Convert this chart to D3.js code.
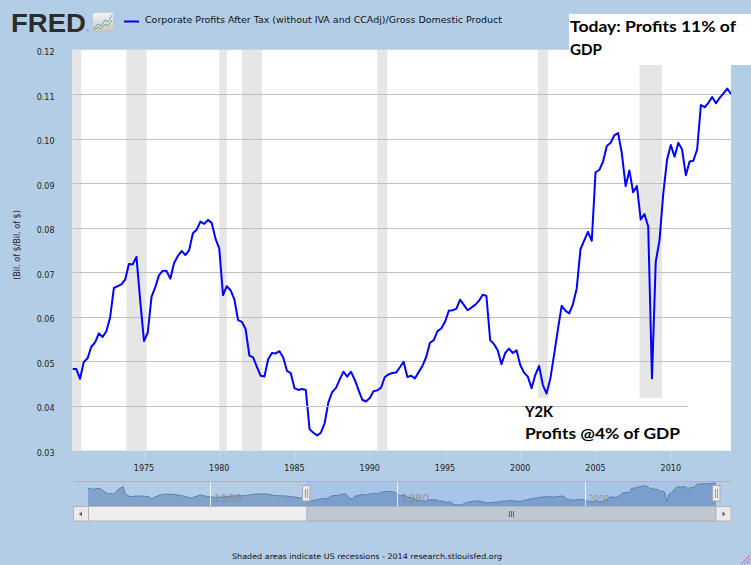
<!DOCTYPE html>
<html><head><meta charset="utf-8">
<script src="https://cdn.jsdelivr.net/npm/d3@7"></script>
<style>html,body{margin:0;padding:0;background:#b4cde6;}svg{display:block;}</style>
</head><body>
<svg id="chart" width="751" height="565"></svg>
<script>
// ---------- DATA ----------
const seriesName = "Corporate Profits After Tax (without IVA and CCAdj)/Gross Domestic Product";
const yUnits = "(Bil. of $/Bil. of $)";
const mainStartYear = 1970.25;   // 1970 Q2, quarterly observations
const mainValues = [
  .0483,.0483,.0461,
  .0499,.0507,.0533,.0543,
  .0563,.0555,.0568,.0599,
  .0665,.0669,.0673,.0684,
  .0719,.0718,.0735,.0636,
  .0546,.0565,.0645,.0667,
  .0694,.0704,.0703,.0686,
  .0721,.0737,.0748,.0739,
  .0750,.0788,.0796,.0814,
  .0809,.0818,.0811,.0776,
  .0754,.0649,.0669,.0660,
  .0640,.0593,.0589,.0573,
  .0513,.0509,.0488,.0468,
  .0466,.0505,.0519,.0518,
  .0523,.0509,.0479,.0474,
  .0440,.0436,.0438,.0436,
  .0348,.0340,.0334,.0340,
  .0361,.0408,.0431,.0440,
  .0459,.0477,.0466,.0477,
  .0459,.0436,.0414,.0410,
  .0418,.0433,.0435,.0441,
  .0465,.0471,.0474,.0475,
  .0487,.0499,.0465,.0468,
  .0462,.0476,.0490,.0510,
  .0542,.0548,.0568,.0574,
  .0589,.0614,.0615,.0618,
  .0639,.0627,.0615,.0621,
  .0627,.0636,.0650,.0647,
  .0548,.0539,.0525,.0494,
  .0519,.0529,.0519,.0525,
  .0492,.0475,.0466,.0440,
  .0470,.0490,.0447,.0428,
  .0462,.0516,.0572,.0625,
  .0614,.0608,.0629,.0664,
  .0752,.0772,.0791,.0771,
  .0925,.0930,.0949,.0984,
  .0991,.1008,.1013,.0967,
  .0894,.0929,.0880,.0894,
  .0819,.0831,.0803,.0462,
  .0724,.0772,.0877,.0953,
  .0986,.0960,.0991,.0976,
  .0918,.0949,.0951,.0976,
  .1076,.1071,.1081,.1094,
  .1080,.1092,.1102,.1113,
  .1101
];
// Earlier history shown only in the navigator
const earlyYears  = [1947.0,1947.5,1948.25,1949.0,1949.75,1950.25,1950.75,1951.0,1951.5,1952.5,1953.5,1953.75,1954.25,1955.0,1956.0,1957.0,1958.0,1959.0,1959.75,1960.5,1961.25,1962.5,1963.75,1965.0,1966.0,1967.0,1968.0,1968.75,1969.75];
const earlyValues = [.0927,.0892,.0927,.0751,.0727,.0892,.0983,.0716,.0632,.0656,.0632,.0551,.0632,.0716,.0716,.0667,.0575,.0691,.0632,.0611,.0611,.0656,.0667,.0727,.0727,.0667,.0656,.0632,.0575];
const recessionStarts = [1969.92,1973.83,1980.0,1981.5,1990.5,2001.17,2007.92];
const recessionEnds   = [1970.83,1975.17,1980.5,1982.83,1991.17,2001.83,2009.42];
const yTickValues = [0.03,0.04,0.05,0.06,0.07,0.08,0.09,0.10,0.11,0.12];
const xTickYears = [1975,1980,1985,1990,1995,2000,2005,2010];
const navLabelYears = [1960,1980,2000];
const footerText = "Shaded areas indicate US recessions - 2014 research.stlouisfed.org";
const noteTop = ["Today: Profits 11% of","GDP"];
const noteBottom = ["Y2K","Profits @4% of GDP"];

// ---------- BUILD ----------
const mainData = mainValues.map((v,i)=>({t: mainStartYear + i*0.25, v}));
const earlyData = earlyYears.map((t,i)=>({t, v: earlyValues[i]}));
const navData = earlyData.concat(mainData);

const svg = d3.select("#chart");
const W = 751, H = 565;
const FONT = "'DejaVu Sans', Verdana, sans-serif";
svg.append("rect").attr("width",W).attr("height",H).attr("fill","#b4cde6");

const plot = {x0:72.5, x1:731, y0:49.8, y1:450.5};
const x = d3.scaleLinear().domain([mainStartYear, mainData[mainData.length-1].t]).range([plot.x0, plot.x1]);
const y = d3.scaleLinear().domain([0.03, 0.12]).range([plot.y1, plot.y0]);

svg.append("defs").append("clipPath").attr("id","plotclip")
  .append("rect").attr("x",plot.x0).attr("y",plot.y0).attr("width",plot.x1-plot.x0).attr("height",plot.y1-plot.y0);

svg.append("rect").attr("x",plot.x0).attr("y",plot.y0).attr("width",plot.x1-plot.x0).attr("height",plot.y1-plot.y0).attr("fill","#fff");

const gp = svg.append("g").attr("clip-path","url(#plotclip)");
gp.selectAll("rect.rec").data(recessionStarts).join("rect").attr("class","rec")
  .attr("x",d=>x(d)).attr("width",(d,i)=>x(recessionEnds[i])-x(d))
  .attr("y",plot.y0).attr("height",plot.y1-plot.y0).attr("fill","#e6e6e6");

const gridVals = yTickValues.filter(v=>v>0.031 && v<0.119);
gp.selectAll("line.grid").data(gridVals).join("line").attr("class","grid")
  .attr("x1",plot.x0).attr("x2",plot.x1).attr("y1",d=>Math.round(y(d))+0.5).attr("y2",d=>Math.round(y(d))+0.5)
  .attr("stroke","#c0c0c0").attr("stroke-width",1);

const line = d3.line().x(d=>x(d.t)).y(d=>y(d.v));
gp.append("path").datum(mainData).attr("d",line).attr("fill","none")
  .attr("stroke","#0000ff").attr("stroke-width",2).attr("stroke-linejoin","round");

// x ticks (faint) and labels
svg.selectAll("line.xt").data(xTickYears).join("line").attr("class","xt")
  .attr("x1",d=>Math.round(x(d))+0.5).attr("x2",d=>Math.round(x(d))+0.5)
  .attr("y1",plot.y1).attr("y2",plot.y1+9).attr("stroke","#cbd9e8");
svg.selectAll("text.xl").data(xTickYears).join("text").attr("class","xl")
  .attr("x",d=>x(d)).attr("y",471).attr("text-anchor","middle")
  .attr("font-family",FONT).attr("font-size",8).attr("fill","#222").text(d=>d);

// y labels
svg.selectAll("text.yl").data(yTickValues).join("text").attr("class","yl")
  .attr("x",54.5).attr("y",d=>y(d)+5.5).attr("text-anchor","end")
  .attr("font-family",FONT).attr("font-size",8).attr("fill","#222").text(d=>d3.format(".2f")(d));
svg.append("text").attr("transform","translate(20,245) rotate(-90)").attr("text-anchor","middle")
  .attr("font-family",FONT).attr("font-size",8).attr("fill","#222").text(yUnits);

// ---------- annotations ----------
svg.append("rect").attr("x",569).attr("y",14).attr("width",W-569).attr("height",51).attr("fill","#fff");
const NOTEFONT = "Lato, 'Open Sans', sans-serif";
svg.append("text").attr("x",570).attr("y",32.3).attr("font-family",NOTEFONT).attr("font-weight","bold")
  .attr("font-size",16).attr("textLength",166).attr("lengthAdjust","spacingAndGlyphs").attr("fill","#000").text(noteTop[0]);
svg.append("text").attr("x",570).attr("y",54.5).attr("font-family",NOTEFONT).attr("font-weight","bold")
  .attr("font-size",16).attr("textLength",32).attr("lengthAdjust","spacingAndGlyphs").attr("fill","#000").text(noteTop[1]);

svg.append("rect").attr("x",515).attr("y",398).attr("width",plot.x1-515).attr("height",plot.y1-398).attr("fill","#fff");
svg.append("line").attr("x1",plot.x0).attr("x2",688).attr("y1",Math.round(y(0.04))+0.5).attr("y2",Math.round(y(0.04))+0.5)
  .attr("stroke","#c0c0c0");
svg.append("text").attr("x",525).attr("y",416.7).attr("font-family",NOTEFONT).attr("font-weight","bold")
  .attr("font-size",16).attr("textLength",28).attr("lengthAdjust","spacingAndGlyphs").attr("fill","#000").text(noteBottom[0]);
svg.append("text").attr("x",525).attr("y",439).attr("font-family",NOTEFONT).attr("font-weight","bold")
  .attr("font-size",16).attr("textLength",155).attr("lengthAdjust","spacingAndGlyphs").attr("fill","#000").text(noteBottom[1]);

// ---------- header ----------
const logoG = svg.append("g");
logoG.append("text").attr("x",11).attr("y",32).attr("font-family","'Liberation Sans', Arial, sans-serif")
  .attr("font-weight","bold").attr("font-size",26).attr("textLength",75).attr("lengthAdjust","spacingAndGlyphs")
  .attr("fill","#2d2d2d").text("FRED");
logoG.append("text").attr("x",86).attr("y",32).attr("font-family","'Liberation Sans', Arial, sans-serif")
  .attr("font-size",4).attr("fill","#555").text("®");
const grad = svg.select("defs").append("linearGradient").attr("id","icong").attr("x1",0).attr("y1",0).attr("x2",0).attr("y2",1);
grad.append("stop").attr("offset","0%").attr("stop-color","#f4f4f4");
grad.append("stop").attr("offset","100%").attr("stop-color","#c8c8c8");
logoG.append("rect").attr("x",92.5).attr("y",12.5).attr("width",21).attr("height",19).attr("rx",2).attr("fill","url(#icong)").attr("stroke","#bdbdbd").attr("stroke-width",0.5);
logoG.append("polyline").attr("points","94,28 98,24 101,26 105,20 108,22 112,15").attr("fill","none").attr("stroke","#6a9ad0").attr("stroke-width",1);
logoG.append("polyline").attr("points","94,30 98,27 101,29 105,24 108,26 112,20").attr("fill","none").attr("stroke","#7fae4a").attr("stroke-width",1);

svg.append("line").attr("x1",124).attr("x2",139).attr("y1",21.5).attr("y2",21.5).attr("stroke","#0000ff").attr("stroke-width",2);
svg.append("text").attr("x",145).attr("y",23).attr("font-family",FONT).attr("font-size",8)
  .attr("textLength",357).attr("lengthAdjust","spacingAndGlyphs").attr("fill","#111").text(seriesName);

// ---------- navigator ----------
const nav = {x0:88, x1:716, y0:483, y1:505, top:481.5, bottom:506};
const nx = d3.scaleLinear().domain([earlyYears[0], mainData[mainData.length-1].t]).range([nav.x0, nav.x1]);
const ny = d3.scaleLinear().domain(d3.extent(navData, d=>d.v)).range([nav.y1, nav.y0]);
svg.append("rect").attr("x",nx(mainStartYear)).attr("y",nav.top).attr("width",nav.x1-nx(mainStartYear)).attr("height",nav.bottom-nav.top).attr("fill","#a7c5e9");
const area = d3.area().x(d=>nx(d.t)).y0(nav.bottom).y1(d=>ny(d.v));
svg.append("path").datum(navData).attr("d",area).attr("fill","rgba(69,114,167,0.45)");
svg.append("path").datum(navData).attr("d",d3.line().x(d=>nx(d.t)).y(d=>ny(d.v))).attr("fill","none").attr("stroke","#5a80b2").attr("stroke-width",1);
svg.selectAll("line.ng").data(navLabelYears).join("line").attr("class","ng")
  .attr("x1",d=>Math.round(nx(d))+0.5).attr("x2",d=>Math.round(nx(d))+0.5).attr("y1",nav.top).attr("y2",nav.bottom)
  .attr("stroke","#fff").attr("stroke-opacity",0.8);
svg.selectAll("text.nl").data(navLabelYears).join("text").attr("class","nl")
  .attr("x",d=>nx(d)+4).attr("y",(d,i)=>i<2?502:501.5).attr("font-family",FONT)
  .attr("font-size",(d,i)=>i<2?11:8).attr("fill","#888").attr("fill-opacity",0.85).text(d=>d);
svg.append("line").attr("x1",73).attr("x2",731).attr("y1",nav.top).attr("y2",nav.top).attr("stroke","#b2b2b2");

// scrollbar
const sb = {y:506, h:14.5};
svg.append("rect").attr("x",73.5).attr("y",sb.y+0.5).attr("width",657).attr("height",sb.h).attr("fill","#eeeeee").attr("stroke","#b5b5b5");
svg.append("rect").attr("x",nx(mainStartYear)+1).attr("y",sb.y+0.5).attr("width",nav.x1-nx(mainStartYear)-1).attr("height",sb.h).attr("fill","#bfc7d1").attr("stroke","#a9b2bd");
[[73.5,-1],[716,1]].forEach(([bx,dir])=>{
  svg.append("rect").attr("x",bx).attr("y",sb.y+0.5).attr("width",15).attr("height",sb.h).attr("fill","#ebebeb").attr("stroke","#b5b5b5");
  const cx = bx+7.5, cy = sb.y+8;
  svg.append("path").attr("d", dir<0 ? `M${cx-2},${cy} L${cx+1},${cy-2.5} L${cx+1},${cy+2.5}Z` : `M${cx+2},${cy} L${cx-1},${cy-2.5} L${cx-1},${cy+2.5}Z`).attr("fill","#666");
});
const thumbC = (nx(mainStartYear)+nav.x1)/2;
[-2,0,2].forEach(o=>svg.append("line").attr("x1",thumbC+o+0.5).attr("x2",thumbC+o+0.5).attr("y1",sb.y+5).attr("y2",sb.y+11).attr("stroke","#666"));

// handles
[nx(mainStartYear), nav.x1].forEach(hx=>{
  svg.append("rect").attr("x",hx-3.5).attr("y",485.5).attr("width",7.5).attr("height",15.5).attr("fill","#ebebeb").attr("stroke","#a8a8a8");
  [-1,1].forEach(o=>svg.append("line").attr("x1",hx+o+0.5).attr("x2",hx+o+0.5).attr("y1",489).attr("y2",498).attr("stroke","#999"));
});

// footer
svg.append("text").attr("x",367).attr("y",559).attr("text-anchor","middle").attr("font-family",FONT).attr("font-size",7.5)
  .attr("textLength",270).attr("lengthAdjust","spacingAndGlyphs").attr("fill","#111").text(footerText);
// resize grip
[3,6,9].forEach(k=>svg.append("line").attr("x1",W-1-k).attr("y1",H-1).attr("x2",W-1).attr("y2",H-1-k).attr("stroke","#c050c0").attr("stroke-width",0.8));
</script>
</body></html>
